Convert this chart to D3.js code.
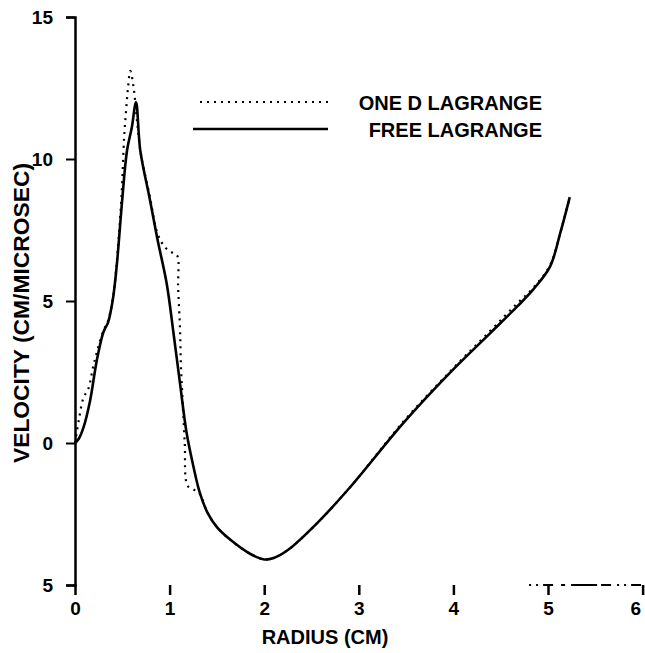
<!DOCTYPE html>
<html>
<head>
<meta charset="utf-8">
<script src="https://d3js.org/d3.v7.min.js"></script>
<style>
    body { margin: 0; background: #fff; }
    text { font-family: "Liberation Sans", Arial, sans-serif; font-weight: bold; fill: #000; }
</style>
</head>
<body>
<div id="chart"></div>
<script>
// radius (cm) and velocity (cm/microsec)
var freeR = [0, 0.04, 0.09, 0.16, 0.23, 0.30, 0.35, 0.40, 0.44, 0.50, 0.55, 0.60, 0.645, 0.69, 0.79, 0.87, 0.97, 1.04, 1.11, 1.18, 1.25, 1.32, 1.40, 1.50, 1.64, 1.85, 2.00, 2.10, 2.25, 2.56, 2.91, 3.47, 3.96, 4.39, 4.67, 4.84, 5.02, 5.13, 5.23];
var freeV = [0, 0.15, 0.55, 1.5, 2.9, 3.9, 4.25, 5.05, 6.2, 8.6, 10.3, 11.1, 12.0, 10.3, 8.6, 7.2, 5.6, 3.9, 2.1, 0.35, -0.8, -1.76, -2.45, -2.96, -3.4, -3.9, -4.1, -4.05, -3.77, -2.82, -1.55, 0.7, 2.46, 3.87, 4.79, 5.39, 6.2, 7.4, 8.66];

var oneR = [0, 0.04, 0.09, 0.14, 0.20, 0.30, 0.35, 0.40, 0.44, 0.49, 0.52, 0.54, 0.56, 0.585, 0.62, 0.66, 0.70, 0.79, 0.87, 0.95, 1.03, 1.08, 1.09, 1.11, 1.12, 1.13, 1.16, 1.19, 1.26, 1.32, 1.40, 1.50, 1.64, 1.85, 2.00, 2.10, 2.25, 2.56, 2.91, 3.47, 3.96, 4.39, 4.67, 4.84, 5.02, 5.13, 5.23];
var oneV = [0, 0.8, 1.6, 1.9, 2.8, 3.95, 4.3, 5.1, 6.3, 8.6, 10.8, 11.7, 12.5, 13.1, 12.5, 11.2, 10.1, 8.7, 7.4, 6.9, 6.7, 6.6, 5.5, 4.0, 2.7, 2.0, 0.0, -1.5, -1.65, -1.8, -2.45, -2.96, -3.4, -3.9, -4.1, -4.05, -3.77, -2.82, -1.55, 0.75, 2.5, 3.95, 4.9, 5.45, 6.25, 7.4, 8.66];

var xTicks = [0, 1, 2, 3, 4, 5, 6];
var yTicks = [15, 10, 5, 0, -5];
var yTickLabels = ['15', '10', '5', '0', '5']; // the minus sign is lost in the original scan

var width = 645, height = 653;
var margin = {top: 17, right: 2.4, bottom: 68, left: 75};

var svg = d3.select('#chart').append('svg')
    .attr('width', width)
    .attr('height', height);

var x = d3.scaleLinear().domain([0, 6]).range([margin.left, width - margin.right]);
var y = d3.scaleLinear().domain([-5, 15]).range([height - margin.bottom, margin.top]);

// y axis
var yAxis = svg.append('g')
    .attr('transform', 'translate(' + x(0) + ',0)')
    .call(d3.axisLeft(y).tickValues(yTicks).tickSize(9).tickPadding(13)
        .tickFormat(function (d, i) { return yTickLabels[i]; }));
yAxis.select('.domain').attr('stroke-width', 2.5);
yAxis.selectAll('.tick line').attr('stroke-width', 2);
yAxis.selectAll('.tick text').style('font-size', '19px').style('font-family', '"Liberation Sans", Arial, sans-serif');

// x axis: ticks only, the baseline is mostly missing in the scan
var xAxis = svg.append('g')
    .attr('transform', 'translate(0,' + y(-5) + ')')
    .call(d3.axisBottom(x).tickValues(xTicks).tickSize(10).tickPadding(7).tickFormat(d3.format('d')));
xAxis.select('.domain').remove();
xAxis.selectAll('.tick line').attr('stroke-width', 2.5);
xAxis.selectAll('.tick text').style('font-size', '19px').style('font-family', '"Liberation Sans", Arial, sans-serif');
// last label sits on the page edge, keep it inside
xAxis.selectAll('.tick text').filter(function (d) { return d === 6; }).attr('text-anchor', 'end').attr('dx', -2);

// the short piece of baseline that survived near the right end
svg.append('line')
    .attr('x1', x(4.8)).attr('x2', x(6))
    .attr('y1', y(-5)).attr('y2', y(-5))
    .attr('stroke', '#000')
    .attr('stroke-width', 2)
    .attr('stroke-dasharray', '2,5,2,5,10,8,4,6,26,4,10,6');

var line = d3.line()
    .x(function (d) { return x(d[0]); })
    .y(function (d) { return y(d[1]); })
    .curve(d3.curveCatmullRom.alpha(0.5));

var freeData = freeR.map(function (r, i) { return [r, freeV[i]]; });
var oneData = oneR.map(function (r, i) { return [r, oneV[i]]; });

svg.append('path')
    .attr('d', line(oneData))
    .attr('fill', 'none')
    .attr('stroke', '#000')
    .attr('stroke-width', 2.2)
    .attr('stroke-dasharray', '2,5');

svg.append('path')
    .attr('d', line(freeData))
    .attr('fill', 'none')
    .attr('stroke', '#000')
    .attr('stroke-width', 2.6);

// legend
var legend = svg.append('g');
legend.append('line')
    .attr('x1', 200).attr('x2', 330).attr('y1', 102).attr('y2', 102)
    .attr('stroke', '#000').attr('stroke-width', 2).attr('stroke-dasharray', '2,5');
legend.append('line')
    .attr('x1', 193).attr('x2', 328).attr('y1', 129).attr('y2', 129)
    .attr('stroke', '#000').attr('stroke-width', 2.5);
legend.append('text')
    .attr('x', 542).attr('y', 110)
    .attr('text-anchor', 'end')
    .style('font-size', '20px')
    .text('ONE D LAGRANGE');
legend.append('text')
    .attr('x', 542).attr('y', 137)
    .attr('text-anchor', 'end')
    .style('font-size', '20px')
    .text('FREE LAGRANGE');

// axis titles
svg.append('text')
    .attr('x', 325).attr('y', 644)
    .attr('text-anchor', 'middle')
    .style('font-size', '20px')
    .text('RADIUS (CM)');

svg.append('text')
    .attr('transform', 'translate(29,313) rotate(-90)')
    .attr('text-anchor', 'middle')
    .attr('textLength', 300)
    .attr('lengthAdjust', 'spacingAndGlyphs')
    .style('font-size', '22px')
    .text('VELOCITY (CM/MICROSEC)');
</script>
</body>
</html>
